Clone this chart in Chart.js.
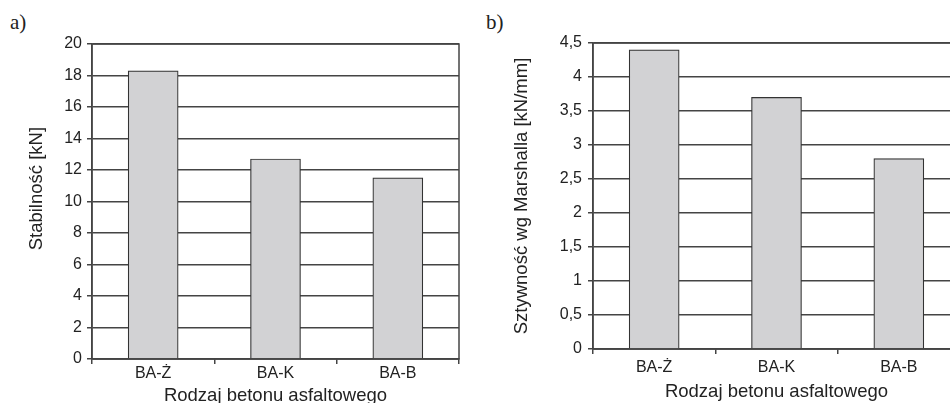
<!DOCTYPE html>
<html>
<head>
<meta charset="utf-8">
<script src="https://cdn.jsdelivr.net/npm/chart.js@4/dist/chart.umd.min.js"></script>
<style>
  html, body { margin: 0; padding: 0; background: #fff; overflow: hidden; }
  body { width: 950px; height: 403px; position: relative; }
  canvas { position: absolute; top: 0; }
  #chart-a { left: 0; }
  #chart-b { left: 480px; }
  .tag {
    position: absolute; top: 10px;
    font-family: "Liberation Serif", "Times New Roman", serif;
    font-size: 21px; color: #222;
  }
</style>
</head>
<body>
<div class="tag" style="left: 10px;">a)</div>
<div class="tag" style="left: 486px;">b)</div>
<canvas id="chart-a" width="470" height="410"></canvas>
<canvas id="chart-b" width="500" height="410"></canvas>
<script>
const categories = ["BA-Ż", "BA-K", "BA-B"];

// a) stability
const stabilnosc = [18.3, 12.7, 11.5];
const ticksA = ["0", "2", "4", "6", "8", "10", "12", "14", "16", "18", "20"];

// b) Marshall stiffness
const sztywnosc = [4.4, 3.7, 2.8];
const ticksB = ["0", "0,5", "1", "1,5", "2", "2,5", "3", "3,5", "4", "4,5"];

const xTitle = "Rodzaj betonu asfaltowego";
const font = "'Liberation Sans', Arial, sans-serif";
const ink = "#222";
const lines = "#444";

// outline of the plot area (right edge has no axis of its own)
const frame = {
  id: "frame",
  afterDraw(chart) {
    const { ctx, chartArea: a } = chart;
    ctx.save();
    ctx.strokeStyle = lines;
    ctx.lineWidth = 1.5;
    ctx.strokeRect(a.left, a.top, a.right - a.left, a.bottom - a.top);
    ctx.restore();
  },
};

function makeChart(id, values, tickLabels, max, step, cfg) {
  const ctx = document.getElementById(id).getContext("2d");
  return new Chart(ctx, {
    type: "bar",
    data: {
      labels: categories,
      datasets: [
        {
          data: values,
          backgroundColor: "#d2d2d4",
          borderColor: "#333",
          borderWidth: 1.2,
          barThickness: 50,
        },
      ],
    },
    options: {
      responsive: false,
      animation: false,
      devicePixelRatio: 1,
      layout: { padding: cfg.padding },
      plugins: { legend: { display: false }, tooltip: { enabled: false } },
      scales: {
        x: {
          grid: {
            display: true,
            drawOnChartArea: false,
            offset: true,
            tickLength: 5,
            color: lines,
            lineWidth: 1.5,
          },
          border: { color: lines, width: 1.5 },
          ticks: {
            color: ink,
            font: { family: font, size: 16 },
            padding: cfg.xTickPad,
            maxRotation: 0,
          },
          title: {
            display: true,
            text: xTitle,
            color: ink,
            font: { family: font, size: 18.5, lineHeight: 1 },
            padding: { top: 0, bottom: cfg.xTitlePad },
          },
          afterFit(scale) {
            scale.height = cfg.xHeight;
          },
        },
        y: {
          min: 0,
          max: max,
          grid: { color: lines, lineWidth: 1.5, tickLength: 5 },
          border: { color: lines, width: 1.5 },
          ticks: {
            stepSize: step,
            color: ink,
            font: { family: font, size: 16 },
            padding: cfg.yTickPad,
            callback: (v, i) => tickLabels[i],
          },
          title: {
            display: true,
            text: cfg.yTitle,
            color: ink,
            font: { family: font, size: 18.5, lineHeight: 1 },
            padding: { top: cfg.yTitlePad, bottom: 0 },
          },
          afterFit(scale) {
            scale.width = cfg.yWidth;
          },
        },
      },
    },
    plugins: [frame],
  });
}

makeChart("chart-a", stabilnosc, ticksA, 20, 2, {
  padding: { top: 44, right: 11, left: 0, bottom: 0 },
  yWidth: 92,
  xHeight: 51,
  xTickPad: 0,
  yTickPad: 5,
  xTitlePad: 5,
  yTitlePad: 28,
  yTitle: "     Stabilność [kN]",
});

makeChart("chart-b", sztywnosc, ticksB, 4.5, 0.5, {
  padding: { top: 43, right: 20, left: 0, bottom: 0 },
  yWidth: 113,
  xHeight: 61,
  xTickPad: 4,
  yTickPad: 6,
  xTitlePad: 9,
  yTitlePad: 33,
  yTitle: "Sztywność wg Marshalla [kN/mm]",
});
</script>
</body>
</html>
